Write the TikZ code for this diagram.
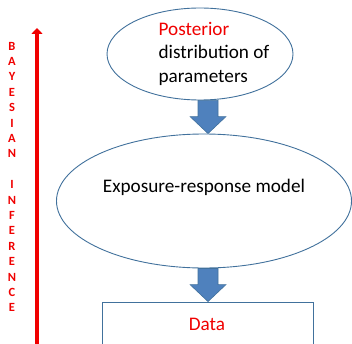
\documentclass[tikz,border=0pt]{standalone}
\usepackage{fontspec}
\setmainfont{Carlito}
\usetikzlibrary{shapes.geometric,arrows.meta,calc}
\definecolor{outline}{HTML}{41719C}
\definecolor{arrowfill}{HTML}{4F81BD}
\definecolor{infred}{HTML}{F00000}
\tikzset{
  bubble/.style={ellipse, draw=outline, line width=0.9pt, fill=white, inner sep=0pt},
  databox/.style={rectangle, draw=outline, line width=0.9pt, fill=white, inner sep=0pt},
  label18/.style={font=\fontsize{19.2}{23.5}\selectfont, inner sep=0pt},
  blockarrow/.style={fill=arrowfill, draw=outline, line width=0.6pt, line join=miter},
  letters/.style={font=\fontsize{12.5}{15.4}\selectfont\bfseries, text=infred, align=center, inner sep=0pt}
}
% block arrow: x position, start anchor, end anchor (tip)
\newcommand\blockarrow[3]{%
  \path[blockarrow] let \p1=#2, \p2=#3 in
    (#1-10pt,\y1) -- (#1+10pt,\y1) -- (#1+10pt,\y2+17pt) -- (#1+18pt,\y2+17pt)
    -- (#1,\y2) -- (#1-18pt,\y2+17pt) -- (#1-10pt,\y2+17pt) -- cycle;}
\begin{document}
\begin{tikzpicture}[x=1pt,y=1pt]
\useasboundingbox (0,0) rectangle (352,343);
\clip (0,0) rectangle (352,343);
% vertical inference arrow and its caption
\coordinate (low) at (37,-2);
\coordinate (high) at (37,315);
\draw[infred, line width=4.6pt, -{Triangle[width=11pt,length=6pt]}] (low) -- (high);
\node[letters] (caption) at (12,166) {B\\A\\Y\\E\\S\\I\\A\\N\\[15.4pt]I\\N\\F\\E\\R\\E\\N\\C\\E};
% shapes
\node[bubble, minimum width=186pt, minimum height=92pt] (post) at (200,289) {};
\node[label18, align=left] (posttext) at (214,289.5) {\textcolor{infred}{Posterior}\\distribution of\\parameters};
\node[bubble, minimum width=295pt, minimum height=134pt] (model) at (204,142) {};
\node[label18] (modeltext) at (204,156) {Exposure-response model};
\node[databox, minimum width=211pt, minimum height=50pt] (data) at (207.5,16) {};
\node[label18, text=infred] (datatext) at (207,19) {Data};
% connectors
\blockarrow{208pt}{(post.south)}{(model.north)}
\blockarrow{208pt}{(model.south)}{(data.north)}
\end{tikzpicture}
\end{document}
